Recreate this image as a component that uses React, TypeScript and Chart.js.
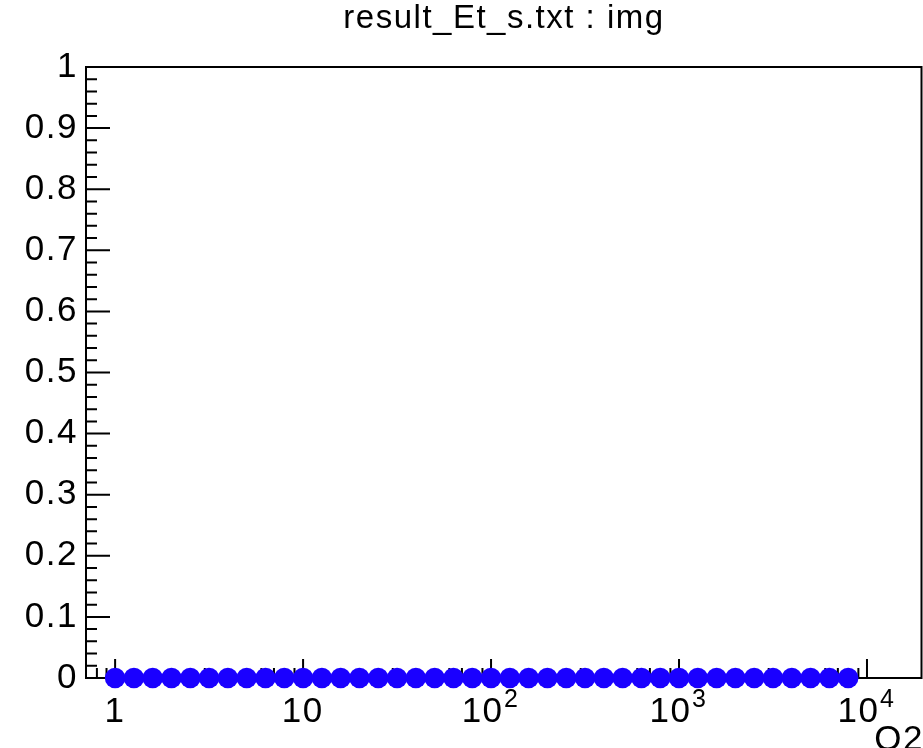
import React, { useEffect, useRef } from "react";
import { Chart, registerables } from "chart.js";

Chart.register(...registerables);

// ---- data ----
const q2Values = [
  1, 1.259, 1.585, 1.995, 2.512, 3.162, 3.981, 5.012, 6.31, 7.943,
  10, 12.59, 15.85, 19.95, 25.12, 31.62, 39.81, 50.12, 63.1, 79.43,
  100, 125.9, 158.5, 199.5, 251.2, 316.2, 398.1, 501.2, 631.0, 794.3,
  1000, 1259, 1585, 1995, 2512, 3162, 3981, 5012, 6310, 7943,
];
const imgValues = [
  0, 0, 0, 0, 0, 0, 0, 0, 0, 0,
  0, 0, 0, 0, 0, 0, 0, 0, 0, 0,
  0, 0, 0, 0, 0, 0, 0, 0, 0, 0,
  0, 0, 0, 0, 0, 0, 0, 0, 0, 0,
];
const xTickValues = [1, 10, 100, 1000, 10000];
const xTickBase = ["1", "10", "10", "10", "10"];
const xTickExponent = ["", "", "2", "3", "4"];
const xMinorTicks = [
  0.8, 0.9,
  2, 3, 4, 5, 6, 7, 8, 9,
  20, 30, 40, 50, 60, 70, 80, 90,
  200, 300, 400, 500, 600, 700, 800, 900,
  2000, 3000, 4000, 5000, 6000, 7000, 8000, 9000,
];
const yTickValues = [0, 0.1, 0.2, 0.3, 0.4, 0.5, 0.6, 0.7, 0.8, 0.9, 1];
const yTickLabels = ["0", "0.1", "0.2", "0.3", "0.4", "0.5", "0.6", "0.7", "0.8", "0.9", "1"];
const yMinorTicks = [
  0.02, 0.04, 0.06, 0.08, 0.12, 0.14, 0.16, 0.18, 0.22, 0.24, 0.26, 0.28,
  0.32, 0.34, 0.36, 0.38, 0.42, 0.44, 0.46, 0.48, 0.52, 0.54, 0.56, 0.58,
  0.62, 0.64, 0.66, 0.68, 0.72, 0.74, 0.76, 0.78, 0.82, 0.84, 0.86, 0.88,
  0.92, 0.94, 0.96, 0.98,
];
const titleText = "result_Et_s.txt : img";
const xAxisTitle = "Q2";

const FONT = "'Liberation Sans', Arial, Helvetica, sans-serif";
const W = 923;
const H = 748;

const rootPlugin = {
  id: "rootStyle",
  beforeDraw(chart: any) {
    (chart.ctx as any).letterSpacing = "1.5px";
  },
  beforeDatasetsDraw(chart: any) {
    const { ctx, chartArea } = chart;
    const xs = chart.scales.x;
    const ys = chart.scales.y;
    ctx.save();
    (ctx as any).letterSpacing = "0px";
    ctx.strokeStyle = "#000";
    ctx.lineWidth = 2;
    ctx.strokeRect(chartArea.left, chartArea.top, chartArea.right - chartArea.left, chartArea.bottom - chartArea.top);
    ctx.beginPath();
    for (const v of yTickValues) {
      const py = ys.getPixelForValue(v);
      ctx.moveTo(chartArea.left, py);
      ctx.lineTo(chartArea.left + 24, py);
    }
    for (const v of yMinorTicks) {
      const py = ys.getPixelForValue(v);
      ctx.moveTo(chartArea.left, py);
      ctx.lineTo(chartArea.left + 11, py);
    }
    for (const v of xTickValues) {
      const px = xs.getPixelForValue(v);
      if (px < chartArea.left || px > chartArea.right) continue;
      ctx.moveTo(px, chartArea.bottom);
      ctx.lineTo(px, chartArea.bottom - 19);
    }
    for (const v of xMinorTicks) {
      const px = xs.getPixelForValue(v);
      if (px < chartArea.left || px > chartArea.right) continue;
      ctx.moveTo(px, chartArea.bottom);
      ctx.lineTo(px, chartArea.bottom - 10);
    }
    ctx.stroke();
    ctx.restore();
  },
  afterDraw(chart: any) {
    const { ctx, chartArea } = chart;
    const xs = chart.scales.x;
    ctx.save();
    ctx.fillStyle = "#000";
    ctx.textBaseline = "alphabetic";
    // x tick labels: base number with raised exponent (ROOT style)
    (ctx as any).letterSpacing = "1.5px";
    const baseFont = `35px ${FONT}`;
    const expFont = `25px ${FONT}`;
    const baseY = chartArea.bottom + 44;
    const expY = chartArea.bottom + 29;
    xTickValues.forEach((v, i) => {
      const px = xs.getPixelForValue(v);
      ctx.font = baseFont;
      const bw = ctx.measureText(xTickBase[i]).width - 1.5;
      let ew = 0;
      if (xTickExponent[i]) {
        ctx.font = expFont;
        ew = ctx.measureText(xTickExponent[i]).width + 1;
      }
      const x0 = px - (bw + ew) / 2 - 1;
      ctx.textAlign = "left";
      ctx.font = baseFont;
      ctx.fillText(xTickBase[i], x0, baseY);
      if (xTickExponent[i]) {
        ctx.font = expFont;
        ctx.fillText(xTickExponent[i], x0 + bw + 2, expY);
      }
    });
    // title
    ctx.font = `33px ${FONT}`;
    ctx.textAlign = "center";
    ctx.fillText(titleText, 504, 28);
    // x axis title
    ctx.font = `35px ${FONT}`;
    ctx.textAlign = "right";
    ctx.fillText(xAxisTitle, 924, 750);
    ctx.restore();
  },
};

export default function App() {
  const ref = useRef<HTMLCanvasElement>(null);
  useEffect(() => {
    if (!ref.current) return;
    const chart = new Chart(ref.current, {
      type: "scatter",
      data: {
        datasets: [
          {
            label: "img",
            data: q2Values.map((x, i) => ({ x, y: imgValues[i] })),
            backgroundColor: "rgb(26,0,255)",
            borderWidth: 0,
            pointRadius: 10.3,
            pointHoverRadius: 10.3,
            clip: false as any,
          },
        ],
      },
      options: {
        animation: false,
        responsive: false,
        events: [],
        layout: { autoPadding: false, padding: { top: 67, right: 1.5, left: 0, bottom: 0 } },
        plugins: { legend: { display: false }, title: { display: false }, tooltip: { enabled: false } },
        scales: {
          x: {
            type: "logarithmic",
            min: 0.731,
            max: 19500,
            grid: { display: false, drawTicks: false },
            border: { display: false },
            afterBuildTicks: (scale: any) => {
              scale.ticks = xTickValues.map((v) => ({ value: v }));
            },
            afterFit: (scale: any) => {
              scale.height = 70;
              scale.paddingLeft = 0;
              scale.paddingRight = 0;
            },
            ticks: { display: false },
          },
          y: {
            type: "linear",
            min: 0,
            max: 1,
            grid: { display: false, drawTicks: false },
            border: { display: false },
            afterBuildTicks: (scale: any) => {
              scale.ticks = yTickValues.map((v) => ({ value: v }));
            },
            afterFit: (scale: any) => {
              scale.width = 86;
              scale.paddingTop = 0;
              scale.paddingBottom = 0;
            },
            ticks: {
              autoSkip: false,
              padding: 8,
              color: "#000",
              font: { family: FONT, size: 35 },
              callback: (_v: any, i: number) => yTickLabels[i],
            },
          },
        },
      },
      plugins: [rootPlugin],
    });
    return () => chart.destroy();
  }, []);
  return (
    <div style={{ position: "absolute", left: 0, top: 0, width: W, height: H, background: "#fff" }}>
      <canvas ref={ref} width={W} height={H} style={{ display: "block" }} />
    </div>
  );
}
